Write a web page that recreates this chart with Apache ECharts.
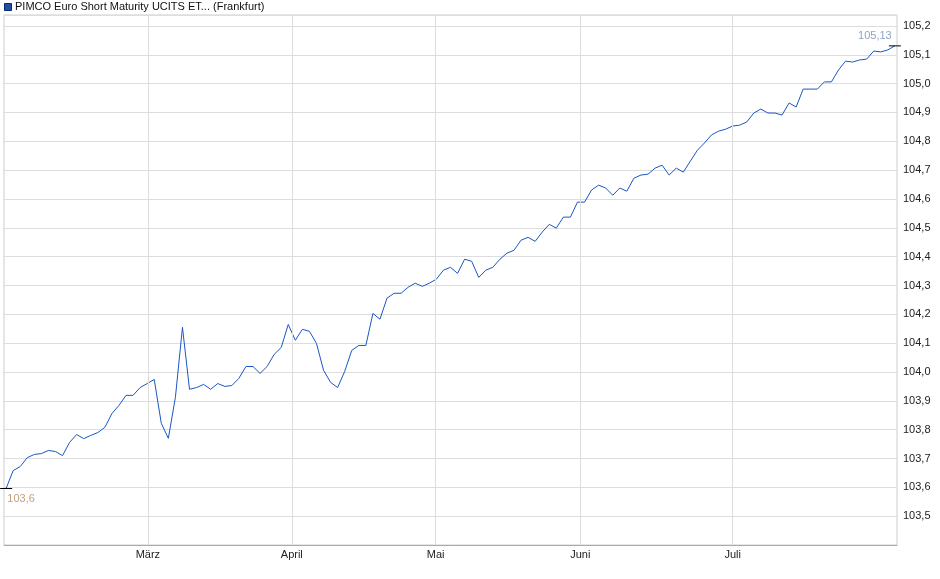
<!DOCTYPE html>
<html><head><meta charset="utf-8">
<script src="https://cdn.jsdelivr.net/npm/echarts@6/dist/echarts.min.js"></script>
<style>html,body{margin:0;padding:0;background:#fff}#c{width:940px;height:579px}</style>
</head><body><div id="c"></div>
<script>
const values = [
103.596,103.658,103.672,103.703,103.714,103.717,103.728,103.724,103.710,103.756,
103.783,103.769,103.780,103.790,103.808,103.856,103.884,103.919,103.919,103.946,
103.960,103.974,103.822,103.770,103.912,104.155,103.940,103.946,103.957,103.940,
103.960,103.950,103.953,103.978,104.019,104.019,103.995,104.019,104.061,104.085,
104.165,104.110,104.148,104.141,104.099,104.006,103.964,103.946,104.002,104.075,
104.092,104.092,104.203,104.183,104.256,104.273,104.273,104.294,104.308,104.297,
104.308,104.322,104.353,104.363,104.342,104.391,104.384,104.328,104.353,104.363,
104.391,104.412,104.422,104.457,104.467,104.453,104.485,104.512,104.499,104.537,
104.537,104.589,104.589,104.631,104.648,104.638,104.613,104.638,104.627,104.672,
104.683,104.686,104.707,104.717,104.683,104.707,104.693,104.731,104.769,104.794,
104.822,104.835,104.842,104.853,104.856,104.867,104.898,104.912,104.898,104.898,
104.891,104.933,104.919,104.981,104.981,104.981,105.006,105.006,105.047,105.078,
105.075,105.082,105.085,105.113,105.110,105.117,105.131
];
const monthLabels = ['März','April','Mai','Juni','Juli'];
const monthPos = [20.1, 40.5, 60.9, 81.4, 103.0];
const yTicks = [103.5,103.6,103.7,103.8,103.9,104.0,104.1,104.2,104.3,104.4,104.5,104.6,104.7,104.8,104.9,105.0,105.1,105.2];
const seriesName = 'PIMCO Euro Short Maturity UCITS ET...';
const exchange = '(Frankfurt)';

const chart = echarts.init(document.getElementById('c'));
const n = values.length;
chart.setOption({
  animation:false,
  grid:{left:4,right:43,top:15,bottom:34,show:true,borderColor:'#ccc',borderWidth:1},
  xAxis:{type:'value',min:-0.3,max:n-1+0.3,axisLine:{lineStyle:{color:'#aaa'}},axisTick:{show:false},axisLabel:{show:false},splitLine:{show:false}},
  yAxis:{type:'value',position:'right',min:103.4,max:105.238,interval:0.1,
    axisLine:{show:false},axisTick:{show:false},
    axisLabel:{color:'#222',fontSize:11,fontFamily:'Liberation Sans, Arial',margin:6,showMinLabel:false,showMaxLabel:false,
      formatter:v=>yTicks.some(t=>Math.abs(t-v)<1e-6)?v.toFixed(1).replace('.',','):''},
    splitLine:{lineStyle:{color:'#ddd'}}},
  graphic:[
    {type:'rect',left:4,top:3,shape:{width:7,height:7},style:{fill:'#1f4fa8',stroke:'#0a2a66',lineWidth:1}},
    {type:'text',left:15,top:1,style:{text:seriesName+' '+exchange,fontSize:11,fontFamily:'Liberation Sans, Arial',fill:'#111'}}
  ],
  series:[{
    type:'line',name:seriesName,data:values.map((v,i)=>[i,v]),symbol:'none',
    lineStyle:{color:'#1a56c4',width:1},
    markLine:{silent:true,symbol:'none',animation:false,
      lineStyle:{color:'#ddd',type:'solid',width:1},
      label:{position:'start',color:'#222',fontSize:11,fontFamily:'Liberation Sans, Arial',distance:4,formatter:p=>p.name},
      data:monthPos.map((p,i)=>({name:monthLabels[i],xAxis:p}))},
    markPoint:{silent:true,animation:false,symbol:'rect',symbolSize:[12,1],itemStyle:{color:'#000'},
      data:[
        {coord:[0,values[0]],label:{show:true,position:'bottom',distance:4,offset:[15,0],color:'#c4a07e',fontSize:11,formatter:'103,6'}},
        {coord:[n-1,values[n-1]],label:{show:true,position:'top',distance:4,offset:[-20,0],color:'#8ea3c8',fontSize:11,formatter:'105,13'}}
      ]}
  }]
});
</script></body></html>
